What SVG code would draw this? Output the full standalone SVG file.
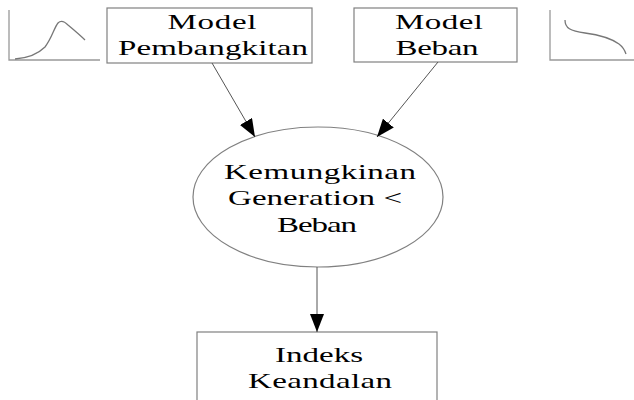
<svg xmlns="http://www.w3.org/2000/svg" width="634" height="400" viewBox="0 0 634 400">
<style>
.box{fill:#fff;stroke:#808080;stroke-width:1.2}
.ax{fill:none;stroke:#999;stroke-width:1.3}
.cv{fill:none;stroke:#777;stroke-width:1.3}
.t{font-family:"Liberation Serif","Times New Roman",serif;font-size:22px;fill:#000;text-anchor:middle}
.ln{stroke:#555;stroke-width:1;fill:none}
</style>
<defs>
<marker id="ah" markerWidth="18" markerHeight="14" refX="18" refY="7" orient="auto" markerUnits="userSpaceOnUse">
<path d="M0,0 L18,7 L0,14 Z" fill="#000"/>
</marker>
</defs>
<g id="graph-left">
<path class="ax" d="M9,10 V60 H100"/>
<path class="cv" d="M15,59 C28,58 38,54 45,47 C52,38 54,28 58,23 C61,20 64,21 68,25 C74,30 80,35 85,40"/>
</g>
<g id="graph-right">
<path class="ax" d="M550,10 V60 H634"/>
<path class="cv" d="M565,20 C565,28 570,31 585,33 C600,35 612,39 619,44 C623,47 625,51 626,54"/>
</g>
<g id="model-pembangkitan">
<rect class="box" x="107" y="8" width="205" height="55"/>
<text class="t" transform="translate(212,29) scale(1.5,1)" textLength="59.3" lengthAdjust="spacing">Model</text>
<text class="t" transform="translate(213,55) scale(1.5,1)" textLength="126.7" lengthAdjust="spacing">Pembangkitan</text>
</g>
<g id="model-beban">
<rect class="box" x="354" y="8" width="163" height="54"/>
<text class="t" transform="translate(439,29) scale(1.5,1)" textLength="58.7" lengthAdjust="spacing">Model</text>
<text class="t" transform="translate(437,55) scale(1.5,1)" textLength="55.3" lengthAdjust="spacing">Beban</text>
</g>
<g id="kemungkinan">
<ellipse class="box" cx="318" cy="197" rx="125" ry="70"/>
<text class="t" transform="translate(320,179) scale(1.5,1)" textLength="128" lengthAdjust="spacing">Kemungkinan</text>
<text class="t" transform="translate(315,205) scale(1.5,1)" textLength="116" lengthAdjust="spacing">Generation &lt;</text>
<text class="t" transform="translate(317,232) scale(1.5,1)" textLength="53.3" lengthAdjust="spacing">Beban</text>
</g>
<g id="indeks-keandalan">
<rect class="box" x="197" y="332" width="240" height="80"/>
<text class="t" transform="translate(319,362) scale(1.5,1)" textLength="58.7" lengthAdjust="spacing">Indeks</text>
<text class="t" transform="translate(320,388) scale(1.5,1)" textLength="96" lengthAdjust="spacing">Keandalan</text>
</g>
<g id="connectors">
<line class="ln" x1="212" y1="63" x2="255" y2="137" marker-end="url(#ah)"/>
<line class="ln" x1="438" y1="62" x2="377" y2="137" marker-end="url(#ah)"/>
<line class="ln" x1="317" y1="267" x2="317" y2="332" marker-end="url(#ah)"/>
</g>
</svg>
